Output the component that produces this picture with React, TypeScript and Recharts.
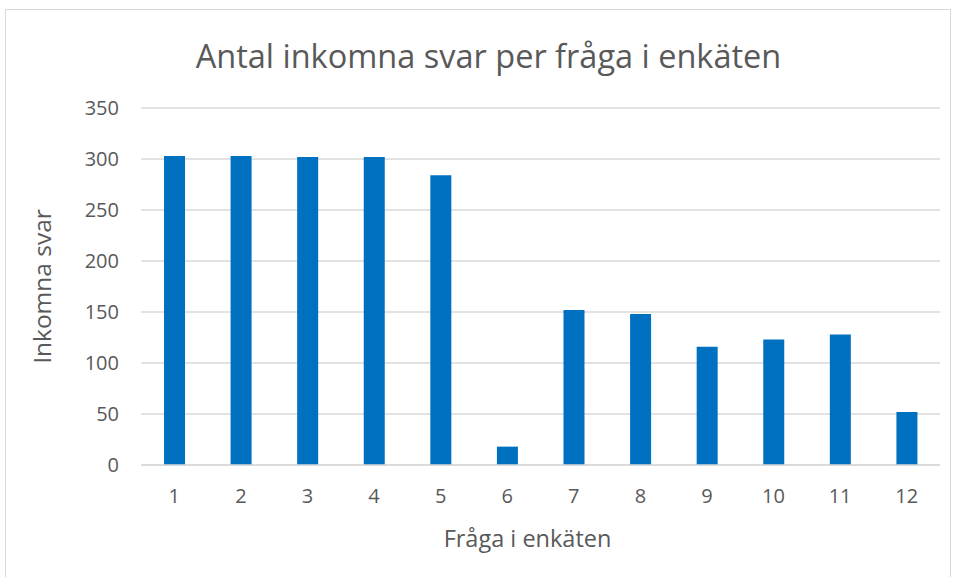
import { BarChart, Bar, XAxis, YAxis, CartesianGrid } from "recharts";

// Antal inkomna svar per fråga
const fragor = ["1", "2", "3", "4", "5", "6", "7", "8", "9", "10", "11", "12"];
const svar = [303, 303, 302, 302, 284, 18, 152, 148, 116, 123, 128, 52];
const yTicks = [0, 50, 100, 150, 200, 250, 300, 350];

const data = fragor.map((f, i) => ({ fraga: f, svar: svar[i] }));

const textColor = "#595959";
const font = "'Open Sans', 'Liberation Sans', sans-serif";

export default function App() {
  return (
    <div style={{ position: "absolute", left: 0, top: 0, width: 957, height: 577, background: "#fff", fontFamily: font, overflow: "hidden" }}>
      {/* ram runt diagrammet */}
      <div style={{ position: "absolute", left: 5, top: 9, width: 946, height: 580, border: "1px solid #d9d9d9", boxSizing: "border-box" }} />
      <div style={{ position: "absolute", left: 0, top: 34, width: 977, textAlign: "center", fontSize: 32.5, color: textColor, lineHeight: "44px" }}>
        Antal inkomna svar per fråga i enkäten
      </div>
      <BarChart width={957} height={577} data={data} margin={{ top: 108, right: 17, bottom: 0, left: 0 }} style={{ position: "absolute", left: 0, top: 0 }}>
        <CartesianGrid vertical={false} stroke="#d9d9d9" strokeWidth={1.5} />
        <XAxis
          dataKey="fraga"
          height={112}
          axisLine={{ stroke: "#d9d9d9", strokeWidth: 1.5 }}
          tickLine={false}
          tickSize={0}
          tickMargin={24}
          tick={{ fontSize: 20, fill: textColor, fontFamily: font }}
          label={{ value: "Fråga i enkäten", position: "insideBottom", offset: 30, dx: -13, fontSize: 23.5, fill: textColor, fontFamily: font }}
        />
        <YAxis
          width={141}
          domain={[0, 350]}
          ticks={yTicks}
          axisLine={false}
          tickLine={false}
          tickSize={0}
          tickMargin={22}
          tick={{ fontSize: 20, fill: textColor, fontFamily: font }}
          label={{ value: "Inkomna svar", angle: -90, position: "center", dx: -28, fontSize: 24.5, fill: textColor, fontFamily: font }}
        />
        <Bar dataKey="svar" fill="#0070c0" barSize={21} isAnimationActive={false} />
      </BarChart>
    </div>
  );
}
